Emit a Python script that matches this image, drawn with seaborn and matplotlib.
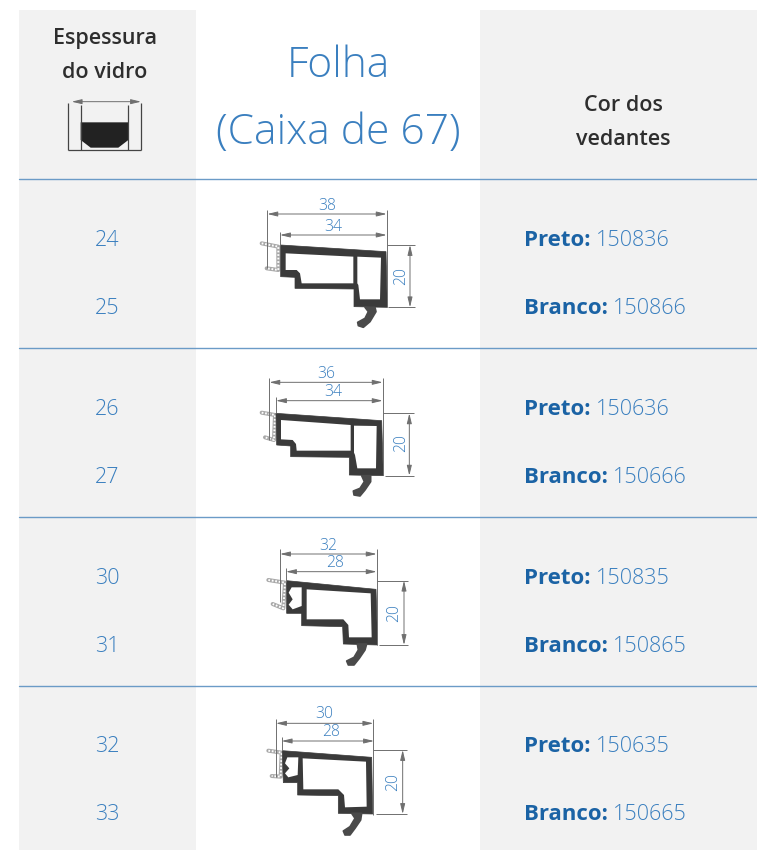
import matplotlib
matplotlib.use("Agg")
import matplotlib.pyplot as plt
import seaborn as sns
from matplotlib.patches import Polygon

# Configuracao
sns.set_theme(style="white")
plt.rcParams["font.family"] = ["Open Sans", "DejaVu Sans"]

GRAY = "#f2f2f2"
RULE = "#6b9bc7"
LIGHT = "#3a7fbf"
STRONG = "#1b63a5"
DARK = "#2e2e2e"
DIM = "#6f6f6f"
PROFILE = "#3a3a3a"

# Valores da tabela
header_left = ["Espessura", "do vidro"]
header_mid = ["Folha", "(Caixa de 67)"]
header_right = ["Cor dos", "vedantes"]
thickness = [[24, 25], [26, 27], [30, 31], [32, 33]]
black_codes = ["150836", "150636", "150835", "150635"]
white_codes = ["150866", "150666", "150865", "150665"]
rule_y = [179, 348, 517, 686]

# Perfis (coordenadas dos recortes ampliados 3x)
p1 = dict(origin=(250, 190),
          outer=[(92, 165), (408, 185), (412, 352), (312, 350), (312, 297), (135, 295), (135, 262), (92, 260)],
          holes=[[(107, 190), (310, 200), (310, 280), (155, 280), (150, 250), (140, 240), (107, 240)],
                 [(322, 200), (393, 203), (390, 328), (330, 328), (325, 285), (322, 280)]],
          hook=[(345, 352), (375, 352), (378, 365), (360, 395), (340, 412), (325, 407), (323, 397), (345, 385), (355, 365)],
          gasket=[(35, 160), (85, 170), (85, 240), (50, 235)],
          wide=(38, 72, 52, 410, 60, 235, 352, 232, 47),
          narrow=(34, 135, 90, 410, 125, 165, 250, 110),
          tall=(480, 165, 352, 410, 415, 495, 452, 258))
p2 = dict(origin=(250, 360),
          outer=[(78, 160), (395, 182), (400, 347), (298, 345), (298, 292), (122, 290), (122, 258), (80, 255)],
          holes=[[(93, 180), (302, 195), (302, 272), (140, 272), (138, 252), (128, 240), (93, 238)],
                 [(312, 197), (380, 198), (378, 325), (322, 325), (315, 285), (312, 278)]],
          hook=[(335, 347), (362, 347), (362, 365), (345, 390), (330, 408), (312, 405), (310, 393), (330, 385), (343, 365)],
          gasket=[(35, 158), (75, 165), (72, 240), (45, 232)],
          wide=(36, 67, 58, 398, 55, 240, 345, 230, 42),
          narrow=(34, 122, 78, 398, 112, 160, 250, 97),
          tall=(478, 160, 347, 398, 405, 492, 452, 250))
p3 = dict(origin=(250, 530),
          outer=[(110, 152), (378, 178), (383, 345), (280, 342), (278, 290), (155, 287), (155, 250), (110, 250)],
          holes=[[(170, 178), (362, 190), (365, 322), (297, 322), (295, 285), (280, 268), (170, 268)],
                 [(125, 172), (155, 172), (155, 228), (128, 238), (116, 224), (128, 208), (116, 188)]],
          hook=[(322, 342), (350, 342), (345, 360), (328, 385), (312, 405), (295, 405), (290, 393), (312, 382), (325, 360)],
          gasket=[(55, 150), (105, 158), (100, 235), (68, 222)],
          wide=(32, 72, 90, 380, 58, 215, 345, 235, 47),
          narrow=(28, 125, 108, 380, 115, 155, 255, 98),
          tall=(462, 152, 345, 380, 388, 475, 432, 250))
p4 = dict(origin=(250, 700),
          outer=[(97, 152), (365, 172), (368, 342), (265, 340), (265, 287), (143, 285), (143, 248), (100, 248)],
          holes=[[(158, 175), (348, 185), (350, 320), (285, 322), (282, 285), (265, 268), (160, 268)],
                 [(112, 172), (145, 172), (143, 225), (115, 232), (105, 220), (118, 205), (105, 190)]],
          hook=[(305, 340), (335, 340), (332, 360), (315, 385), (300, 405), (285, 405), (280, 393), (300, 380), (315, 355)],
          gasket=[(55, 152), (95, 158), (92, 230), (65, 228)],
          wide=(30, 70, 78, 370, 58, 230, 345, 223, 43),
          narrow=(28, 123, 95, 372, 110, 150, 243, 97),
          tall=(458, 150, 342, 370, 378, 472, 430, 245))
profiles = [p1, p2, p3, p4]

# Icone do cabecalho (pixels x3)
icon_glass = [(242, 367), (385, 367), (385, 420), (355, 443), (272, 443), (242, 420)]


def zoomed(origin, pts):
    return [(origin[0] + x / 3, origin[1] + y / 3) for x, y in pts]


def seg(ax, x0, y0, x1, y1, color=DIM, lw=0.7):
    ax.plot([x0, x1], [y0, y1], color=color, lw=lw, solid_capstyle="butt", zorder=4)


def arrow(ax, x0, y0, x1, y1):
    ax.annotate("", xy=(x1, y1), xytext=(x0, y0), zorder=5,
                arrowprops=dict(arrowstyle="<|-|>,head_length=0.5,head_width=0.12",
                                color=DIM, lw=0.7, shrinkA=0, shrinkB=0))


def dim_label(ax, x, y, text, rotation=0):
    ax.text(x, y, text, color=LIGHT, fontsize=11.3, fontweight="light", rotation=rotation,
            ha="center", va="center", zorder=6)


def draw_profile(ax, p):
    o = p["origin"]
    # vedante
    gx, gy = zip(*zoomed(o, p["gasket"]))
    ax.plot(gx, gy, color="#a8a8a8", lw=2.9, solid_joinstyle="round", solid_capstyle="round", zorder=2)
    ax.plot(gx, gy, color="#ffffff", lw=1.4, ls=(0, (0.9, 0.9)), zorder=3)
    ax.add_patch(Polygon(zoomed(o, p["outer"]), closed=True, fc=PROFILE, ec=PROFILE, lw=0.5, joinstyle="round", zorder=3))
    ax.add_patch(Polygon(zoomed(o, p["hook"]), closed=True, fc="#4a4a4a", ec="#4a4a4a", lw=1.2, joinstyle="round", zorder=3))
    for h in p["holes"]:
        ax.add_patch(Polygon(zoomed(o, h), closed=True, fc="white", ec="none", zorder=3.5))

    val, y, x0, x1, ext0, ext1, ext2, tx, ty = p["wide"]
    (xa, ya), (xb, yb) = zoomed(o, [(x0, y), (x1, y)])
    arrow(ax, xa, ya, xb, yb)
    seg(ax, xa, o[1] + ext0 / 3, xa, o[1] + ext1 / 3)
    seg(ax, xb, o[1] + ext0 / 3, xb, o[1] + ext2 / 3)
    (tx, ty), = zoomed(o, [(tx, ty)])
    dim_label(ax, tx, ty, str(val))

    val, y, x0, x1, ext0, ext1, tx, ty = p["narrow"]
    (xa, ya), (xb, yb) = zoomed(o, [(x0, y), (x1, y)])
    arrow(ax, xa, ya, xb, yb)
    seg(ax, xa, o[1] + ext0 / 3, xa, o[1] + ext1 / 3)
    (tx, ty), = zoomed(o, [(tx, ty)])
    dim_label(ax, tx, ty, str(val))

    x, y0, y1, ext_top, ext_bot, ext_end, tx, ty = p["tall"]
    (xa, ya), (xb, yb) = zoomed(o, [(x, y0), (x, y1)])
    arrow(ax, xa, ya, xb, yb)
    seg(ax, o[0] + ext_top / 3, ya, o[0] + ext_end / 3, ya)
    seg(ax, o[0] + ext_bot / 3, yb, o[0] + ext_end / 3, yb)
    (tx, ty), = zoomed(o, [(tx, ty)])
    dim_label(ax, tx, ty, "20", rotation=90)


fig = plt.figure(figsize=(7.57, 8.5), dpi=100)
ax = fig.add_axes([0, 0, 1, 1])
ax.set_xlim(0, 757)
ax.set_ylim(850, 0)
ax.axis("off")
sns.despine(ax=ax, left=True, bottom=True)

# Colunas cinzas
ax.fill_between([19, 196], 10, 850, color=GRAY, lw=0, zorder=0)
ax.fill_between([480, 757], 10, 850, color=GRAY, lw=0, zorder=0)

for y in rule_y:
    ax.plot([19, 757], [y, y], color=RULE, lw=1.0, zorder=1)

# Cabecalho
for text, y in zip(header_left, [38, 72]):
    ax.text(105, y, text, color=DARK, fontsize=15.5, fontweight="semibold", ha="center", va="center")
for text, y in zip(header_mid, [66, 133]):
    ax.text(338, y, text, color=LIGHT, fontsize=30.6, fontweight="light", ha="center", va="center")
for text, y in zip(header_right, [105, 139]):
    ax.text(623, y, text, color=DARK, fontsize=15.5, fontweight="semibold", ha="center", va="center")

# Icone
for x, y0 in [(205, 310), (423, 310), (242, 315), (385, 315)]:
    seg(ax, x / 3, y0 / 3, x / 3, 150, color="#444444", lw=0.9)
seg(ax, 205 / 3, 150, 423 / 3, 150, color="#444444", lw=0.9)
arrow(ax, 215 / 3, 305 / 3, 423 / 3, 305 / 3)
ax.add_patch(Polygon(zoomed((0, 0), icon_glass), closed=True, fc="#222222", ec="none", zorder=3))

# Linhas da tabela
for i, top in enumerate(rule_y):
    for value, dy in zip(thickness[i], [61, 129]):
        ax.text(107, top + dy, str(value), color=LIGHT, fontsize=15.5, fontweight="light", ha="center", va="center")
    ax.text(523.5, top + 61, "Preto:", color=STRONG, fontsize=16, fontweight="bold", ha="left", va="center")
    ax.text(595.5, top + 61, black_codes[i], color=LIGHT, fontsize=15.5, fontweight="light", ha="left", va="center")
    ax.text(523.5, top + 129, "Branco:", color=STRONG, fontsize=16, fontweight="bold", ha="left", va="center")
    ax.text(612.5, top + 129, white_codes[i], color=LIGHT, fontsize=15.5, fontweight="light", ha="left", va="center")
    draw_profile(ax, profiles[i])

fig.savefig("out.png", dpi=100)
